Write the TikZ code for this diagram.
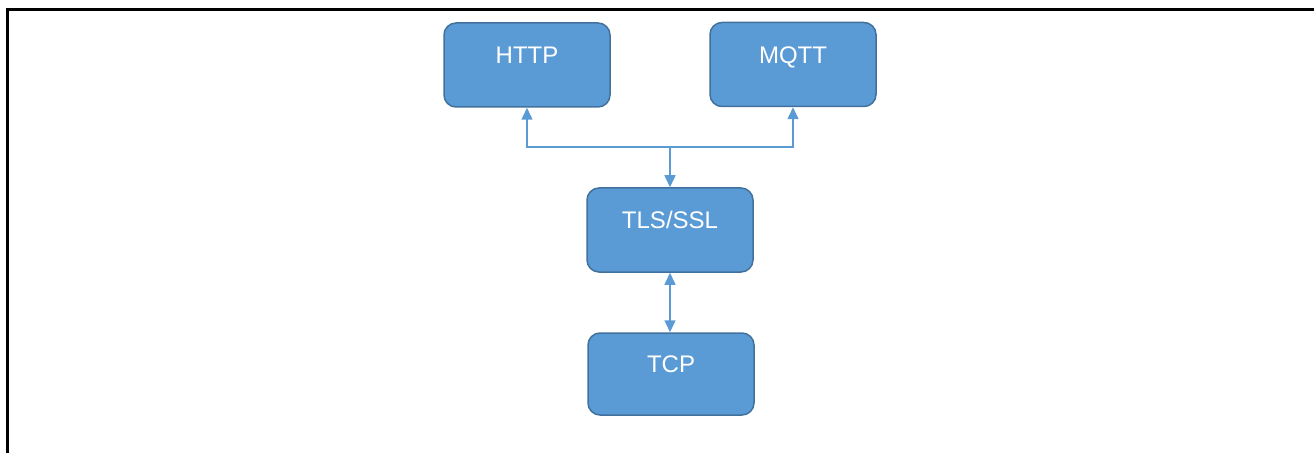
\documentclass[tikz,border=0pt]{standalone}
\usepackage{fontspec}
\setmainfont{Liberation Sans}
\usetikzlibrary{arrows.meta}
\definecolor{boxblue}{HTML}{5B9BD5}
\definecolor{edgeblue}{HTML}{41719C}
\tikzset{
	layer/.style={draw=edgeblue, line width=1.5pt, fill=boxblue, rounded corners=12pt, minimum width=166pt, minimum height=84pt, text=white, font=\fontsize{24}{28}\selectfont, text height=17.5pt, text depth=20.3pt, inner sep=0pt},
	link/.style={draw=boxblue, line width=1.5pt, -{Triangle[length=12pt,width=11pt]}},
}
\begin{document}
\begin{tikzpicture}[x=1pt, y=1pt]
							\useasboundingbox (0,0) rectangle (1314,453);
							\draw[line width=3pt] (1314,443.5) -- (7.5,443.5) -- (7.5,0);
							\node[layer] (http) at (527,388) {HTTP};
							\node[layer] (mqtt) at (793,388.5) {MQTT};
							\node[layer] (tls) at (670,223) {TLS/SSL};
							\node[layer, minimum height=82pt] (tcp) at (671,79) {TCP};
							\coordinate (fork) at (670,306);
							\draw[link] (fork) -| (http.south);
							\draw[link] (fork) -| (mqtt.south);
							\draw[link] (fork) -- (tls.north);
							\draw[link, {Triangle[length=12pt,width=11pt]}-{Triangle[length=12pt,width=11pt]}] (tls.south) -- (tls.south |- tcp.north);
						\end{tikzpicture}
\end{document}
